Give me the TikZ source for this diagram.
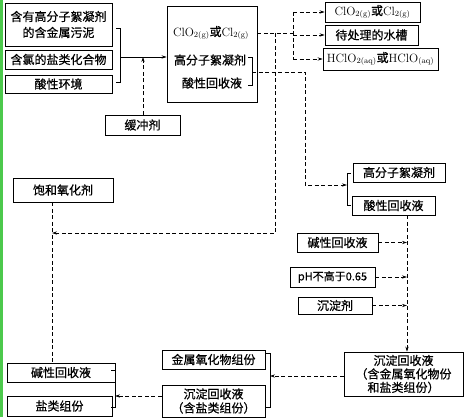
\documentclass[tikz,border=0pt]{standalone}
\usepackage{fontspec}
\newfontfamily\cjk[FakeBold=0.6]{Noto Sans CJK SC}
\usetikzlibrary{arrows.meta}

\begin{document}
\begin{tikzpicture}[
  font=\cjk\fontsize{12}{16}\selectfont,
  cell/.style={draw,line width=0.7pt,inner sep=1pt,align=center},
  flow/.style={line width=0.6pt,dash pattern=on 4pt off 2.5pt,->},
  link/.style={line width=0.6pt,dash pattern=on 4pt off 2.5pt},
  brk/.style={line width=0.6pt},
  >={Stealth[length=5pt,width=3.2pt]}]
\useasboundingbox (0,0) rectangle (465pt,-417pt);
\fill[green!70!black!70] (0,0) rectangle (3pt,-417pt);
% raw materials
\node[cell,minimum width=107pt,minimum height=43pt] (sludge) at (58.5pt,-24.5pt) {含有高分子絮凝剂\\的含金属污泥};
\node[cell,minimum width=107pt,minimum height=19pt] (chl) at (58.5pt,-59.5pt) {含氯的盐类化合物};
\node[cell,minimum width=107pt,minimum height=18pt] (acd) at (58.5pt,-84pt) {酸性环境};
\draw[brk] (116pt,-28pt) -- (120pt,-28pt) -- (120pt,-82pt) -- (116pt,-82pt);
\coordinate (in) at (120pt,-57pt);
% reactor
\node[draw,line width=0.7pt,minimum width=90pt,minimum height=96pt] (big) at (212pt,-54pt) {};
\node (clo) at (211pt,-33pt) {$\mathrm{ClO_{2(g)}}$或$\mathrm{Cl_{2(g)}}$};
\node (flo) at (210pt,-60pt) {高分子絮凝剂};
\node (acr) at (212pt,-83pt) {酸性回收液};
\draw[brk,->] (in) -- (big.west |- in);
\node[cell,minimum width=75pt,minimum height=20pt] (buf) at (142.5pt,-125pt) {缓冲剂};
\coordinate (bj) at (143pt,-57pt);
\draw[flow] (buf.north -| bj) -- (bj);
\draw[brk] (248pt,-57pt) -- (252pt,-57pt) -- (252pt,-85pt) -- (248pt,-85pt);
% gas outputs
\node[cell,minimum width=95pt,minimum height=20pt] (o1) at (372.5pt,-12pt) {$\mathrm{ClO_{2(g)}}$或$\mathrm{Cl_{2(g)}}$};
\node[cell,minimum width=93pt,minimum height=20pt] (o2) at (371.5pt,-35pt) {待处理的水槽};
\node[cell,minimum width=115pt,minimum height=22pt] (o3) at (380.5pt,-59pt) {$\mathrm{HClO_{2(aq)}}$或$\mathrm{HClO_{(aq)}}$};
\coordinate (sp1) at (293pt,-33pt);
\coordinate (sp2) at (275pt,-33pt);
\draw[link] (big.east |- clo) -- (sp1);
\draw[link] (sp1 |- o1) -- (sp1 |- o3);
\draw[flow] (sp1 |- o1) -- (o1.west);
\draw[flow] (sp1 |- o2) -- (o2.west);
\draw[flow] (sp1 |- o3) -- (o3.west);
% back to the oxidant line
\node[cell,minimum width=100pt,minimum height=24pt] (oxid) at (63pt,-190pt) {饱和氧化剂};
\coordinate (ox) at (52pt,-233pt);
\draw[flow] (sp2) |- (ox);
% recovered liquid
\node[cell,minimum width=92pt,minimum height=19pt] (fl2) at (399pt,-172.5pt) {高分子絮凝剂};
\node[cell,minimum width=83pt,minimum height=19pt] (ac2) at (393.5pt,-205.5pt) {酸性回收液};
\draw[brk] (351pt,-173pt) -- (347pt,-173pt) -- (347pt,-205pt) -- (351pt,-205pt);
\draw[flow] (252pt,-72pt) -- (305pt,-72pt) |- (347pt,-185pt);
% precipitation
\node[cell,minimum width=81pt,minimum height=19pt] (alk) at (337.5pt,-242.5pt) {碱性回收液};
\node[cell,minimum width=85pt,minimum height=20pt,font=\cjk\fontsize{11}{14}\selectfont] (ph) at (332.5pt,-277pt) {pH不高于0.65};
\node[cell,minimum width=74pt,minimum height=17pt] (pre) at (335pt,-305.5pt) {沉淀剂};
\coordinate (dn) at (407pt,-215pt);
\node[cell,minimum width=119pt,minimum height=44pt,font=\cjk\fontsize{12}{13.5}\selectfont] (mix) at (403.5pt,-374pt) {沉淀回收液\\（含金属氧化物份\\和盐类组份）};
\draw[flow] (ac2.south -| dn) -- (mix.north -| dn);
\draw[flow] (alk.east) -- (alk.east -| dn);
\draw[flow] (ph.east) -- (ph.east -| dn);
\draw[flow] (pre.east) -- (pre.east -| dn);
% separation
\node[cell,minimum width=103pt,minimum height=19pt] (met) at (213.5pt,-359.5pt) {金属氧化物组份};
\node[cell,minimum width=103pt,minimum height=32pt,font=\cjk\fontsize{12}{14}\selectfont] (srec) at (213.5pt,-401pt) {沉淀回收液\\（含盐类组份）};
\draw[brk] (266pt,-353pt) -- (270pt,-353pt) -- (270pt,-407pt) -- (266pt,-407pt);
\draw[flow] (mix.west |- 0,-376pt) -- (270pt,-376pt);
\node[cell,minimum width=108pt,minimum height=19pt] (alk2) at (61pt,-372.5pt) {碱性回收液};
\node[cell,minimum width=105pt,minimum height=20pt] (salt) at (59.5pt,-406pt) {盐类组份};
\draw[brk] (111pt,-370pt) -- (115pt,-370pt) -- (115pt,-407pt) -- (111pt,-407pt);
\draw[flow] (srec.west |- 0,-396pt) -- (115pt,-396pt);
\draw[link] (oxid.south -| ox) -- (alk2.north -| ox);
\end{tikzpicture}
\end{document}
